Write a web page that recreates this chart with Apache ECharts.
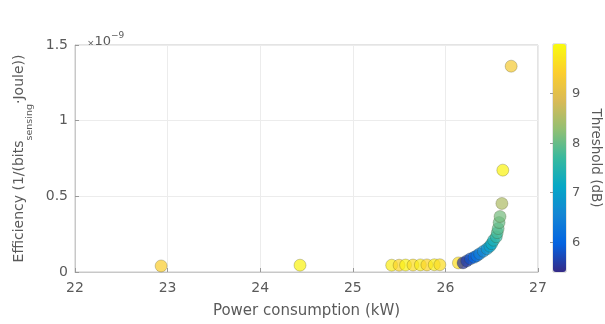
<!DOCTYPE html>
<html>
<head>
<meta charset="utf-8">
<script src="https://cdn.jsdelivr.net/npm/echarts@6/dist/echarts.min.js"></script>
<style>
  html, body { margin: 0; padding: 0; background: #fff; }
  #chart { width: 605px; height: 324px; }
</style>
</head>
<body>
<div id="chart"></div>
<script>
// Power consumption (kW) for each operating point
const power = [
  22.93, 24.43,
  25.42, 25.50, 25.57, 25.65, 25.73, 25.80, 25.88, 25.94,
  26.14,
  26.19, 26.23, 26.27, 26.31, 26.34, 26.37, 26.41, 26.45, 26.48, 26.50,
  26.52, 26.55, 26.56, 26.57, 26.58, 26.59,
  26.61, 26.62, 26.71
];
// Efficiency in units of 1e-9 (1/(bits_sensing·Joule))
const efficiency = [
  0.040, 0.045,
  0.045, 0.045, 0.046, 0.046, 0.047, 0.047, 0.048, 0.048,
  0.060,
  0.060, 0.073, 0.087, 0.097, 0.107, 0.120, 0.137, 0.153, 0.170, 0.187,
  0.210, 0.233, 0.260, 0.287, 0.327, 0.367,
  0.453, 0.673, 1.360
];
// Detection threshold (dB) used for colouring
const threshold = [
  9.4, 9.9,
  9.8, 9.5, 9.9, 9.6, 9.8, 9.5, 9.8, 9.6,
  9.6,
  5.5, 5.6, 5.8, 6.0, 6.2, 6.4, 6.6, 6.8, 7.0, 7.2,
  7.4, 7.6, 7.8, 7.9, 8.0, 8.1,
  8.5, 9.9, 9.3
];

const xTicks = [22, 23, 24, 25, 26, 27];
const yTicks = [0, 0.5, 1, 1.5];
const cbTicks = [6, 7, 8, 9];
const cbRange = [5.4, 10];

// parula colour map stops
const parula = ['#352a87', '#0363e1', '#1485d4', '#06a7c6', '#38b99e',
                '#92bf73', '#d9ba56', '#fcce2e', '#f9fb0e'];

const FONT = 'DejaVu Sans, Verdana, sans-serif';
const TXT = '#5a5a5a';
const AX = '#c8c8c8';
const GRIDC = '#ececec';

const points = power.map((p, i) => [p, efficiency[i], threshold[i]]);

const chart = echarts.init(document.getElementById('chart'), null, { renderer: 'canvas' });

chart.setOption({
  animation: false,
  backgroundColor: '#ffffff',
  textStyle: { fontFamily: FONT },
  grid: [
    { left: 75, right: 67, top: 45, bottom: 52, show: true, borderColor: AX, borderWidth: 1 },
    { left: 553, width: 13, top: 44, height: 228, show: true, borderColor: AX, borderWidth: 1 }
  ],
  xAxis: [
    {
      gridIndex: 0, type: 'value', min: xTicks[0], max: xTicks[xTicks.length - 1], interval: 1,
      name: 'Power consumption (kW)', nameLocation: 'middle', nameGap: 32,
      nameTextStyle: { color: TXT, fontSize: 15, fontFamily: FONT },
      axisLine: { show: true, lineStyle: { color: AX } },
      axisTick: { show: true, inside: true, length: 4, lineStyle: { color: '#999' } },
      axisLabel: { color: TXT, fontSize: 14, margin: 9, fontFamily: FONT },
      splitLine: { show: true, lineStyle: { color: GRIDC } }
    },
    { gridIndex: 1, type: 'value', show: false, min: 0, max: 1 }
  ],
  yAxis: [
    {
      gridIndex: 0, type: 'value', min: yTicks[0], max: yTicks[yTicks.length - 1], interval: 0.5,
      name: '{a|Efficiency (1/(bits}{s|sensing}{a|·Joule))}',
      nameLocation: 'middle', nameRotate: 90, nameGap: 44,
      nameTextStyle: {
        color: TXT, fontFamily: FONT,
        rich: {
          a: { fontSize: 14, color: TXT, fontFamily: FONT, lineHeight: 20, verticalAlign: 'middle' },
          s: { fontSize: 9.5, color: TXT, fontFamily: FONT, lineHeight: 20, verticalAlign: 'bottom', padding: [0, 0, -5, 0] }
        }
      },
      axisLine: { show: true, lineStyle: { color: AX } },
      axisTick: { show: true, inside: true, length: 4, lineStyle: { color: '#999' } },
      axisLabel: { color: TXT, fontSize: 14, margin: 7, fontFamily: FONT },
      splitLine: { show: true, lineStyle: { color: GRIDC } }
    },
    {
      gridIndex: 1, type: 'value', position: 'right', min: cbRange[0], max: cbRange[1],
      name: 'Threshold (dB)', nameLocation: 'middle', nameRotate: -90, nameGap: 22,
      nameTextStyle: { color: TXT, fontSize: 13.5, fontFamily: FONT },
      axisLine: { show: false },
      axisTick: { show: true, inside: true, length: 3, customValues: cbTicks, lineStyle: { color: '#999' } },
      axisLabel: { color: TXT, fontSize: 13, margin: 6, customValues: cbTicks, fontFamily: FONT },
      splitLine: { show: false }
    }
  ],
  visualMap: {
    type: 'continuous',
    min: cbRange[0], max: cbRange[1],
    dimension: 2,
    seriesIndex: 0,
    orient: 'vertical',
    left: 553, top: 44,
    itemWidth: 13, itemHeight: 228,
    padding: 0,
    calculable: false,
    text: ['', ''],
    showLabel: false,
    hoverLink: false,
    inRange: { color: parula }
  },
  graphic: [
    {
      type: 'text', left: 87, top: 31,
      style: {
        text: '{x|×}{a|10}{s|−9}',
        rich: {
          x: { fontSize: 9, fill: TXT, fontFamily: FONT, lineHeight: 17, verticalAlign: 'bottom' },
          a: { fontSize: 13, fill: TXT, fontFamily: FONT, lineHeight: 17, verticalAlign: 'bottom' },
          s: { fontSize: 9, fill: TXT, fontFamily: FONT, lineHeight: 17, verticalAlign: 'top' }
        }
      }
    }
  ],
  series: [
    {
      type: 'scatter',
      xAxisIndex: 0, yAxisIndex: 0,
      data: points,
      symbolSize: 12,
      itemStyle: { opacity: 0.72, borderColor: 'rgba(60,60,20,0.35)', borderWidth: 1 }
    }
  ]
});
</script>
</body>
</html>
